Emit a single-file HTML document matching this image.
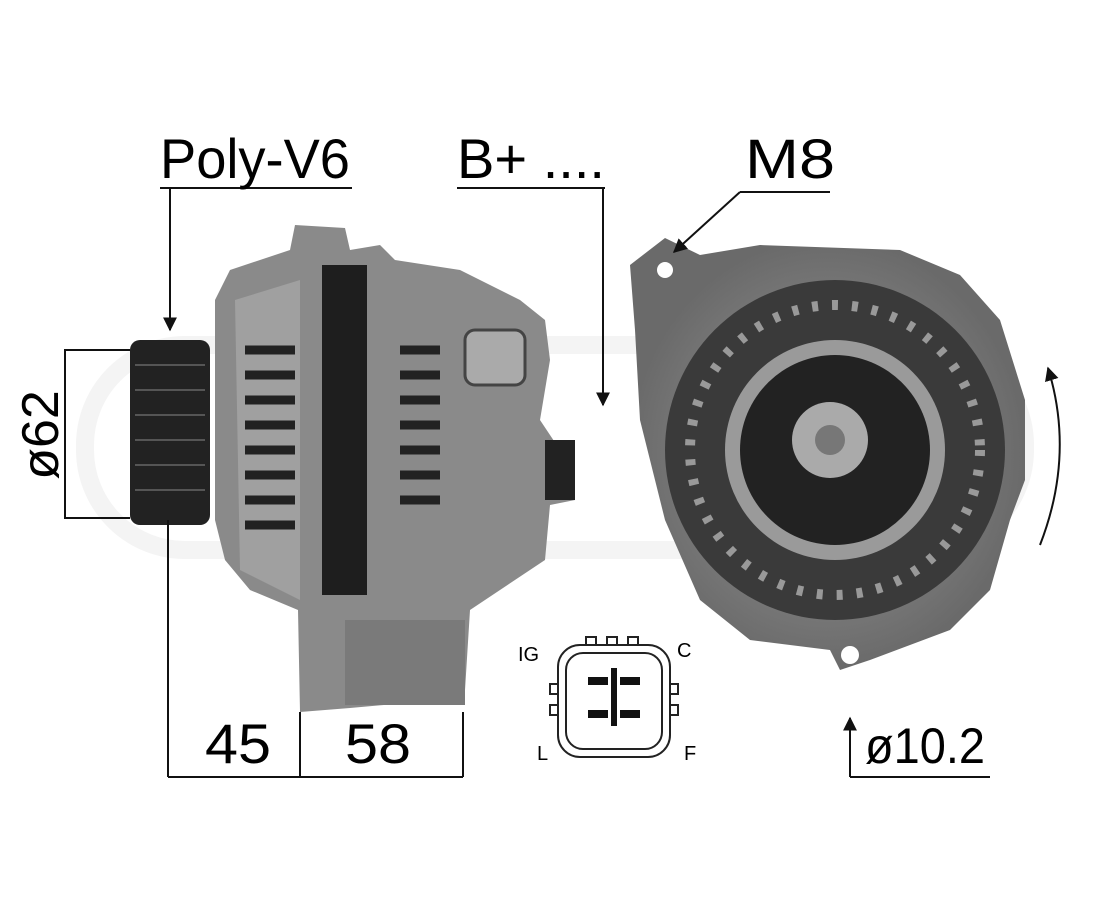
<!DOCTYPE html>
<html><head><style>
body{margin:0;background:#fff;}
svg{display:block}
text{font-family:"Liberation Sans",sans-serif;}
</style></head><body>
<svg width="1100" height="900" viewBox="0 0 1100 900">
<defs>
<marker id="ar" viewBox="0 0 10 10" refX="9" refY="5" markerWidth="7" markerHeight="7" orient="auto"><path d="M0,0 L10,5 L0,10 z" fill="#111"/></marker>
<radialGradient id="g1" cx="50%" cy="50%" r="50%"><stop offset="0" stop-color="#9a9a9a"/><stop offset="1" stop-color="#6a6a6a"/></radialGradient>
</defs>
<!-- watermark -->
<rect x="85" y="345" width="940" height="205" rx="100" fill="none" stroke="#f4f4f4" stroke-width="18"/>
<!-- left alternator -->
<path d="M215,300 L230,270 L290,250 L295,225 L345,228 L350,250 L380,245 L395,260 L460,270 L520,300 L545,320 L550,360 L540,420 L560,450 L575,460 L575,500 L550,505 L545,560 L470,610 L465,690 L440,700 L350,708 L300,712 L298,610 L250,590 L225,560 L215,520 Z" fill="#8a8a8a"/>
<path d="M235,300 L300,280 L300,600 L240,570 Z" fill="#a0a0a0"/>
<g stroke="#222" stroke-width="9">
<line x1="245" y1="350" x2="295" y2="350"/><line x1="245" y1="375" x2="295" y2="375"/><line x1="245" y1="400" x2="295" y2="400"/><line x1="245" y1="425" x2="295" y2="425"/><line x1="245" y1="450" x2="295" y2="450"/><line x1="245" y1="475" x2="295" y2="475"/><line x1="245" y1="500" x2="295" y2="500"/><line x1="245" y1="525" x2="295" y2="525"/>
<line x1="400" y1="350" x2="440" y2="350"/><line x1="400" y1="375" x2="440" y2="375"/><line x1="400" y1="400" x2="440" y2="400"/><line x1="400" y1="425" x2="440" y2="425"/><line x1="400" y1="450" x2="440" y2="450"/><line x1="400" y1="475" x2="440" y2="475"/><line x1="400" y1="500" x2="440" y2="500"/>
</g>
<rect x="322" y="265" width="45" height="330" fill="#1e1e1e"/>
<rect x="465" y="330" width="60" height="55" rx="10" fill="#aaa" stroke="#444" stroke-width="3"/>
<rect x="545" y="440" width="30" height="60" fill="#222"/>
<rect x="345" y="620" width="120" height="85" fill="#7a7a7a"/>
<!-- pulley -->
<rect x="130" y="340" width="80" height="185" rx="10" fill="#222"/>
<g stroke="#555" stroke-width="2"><line x1="135" y1="365" x2="205" y2="365"/><line x1="135" y1="390" x2="205" y2="390"/><line x1="135" y1="415" x2="205" y2="415"/><line x1="135" y1="440" x2="205" y2="440"/><line x1="135" y1="465" x2="205" y2="465"/><line x1="135" y1="490" x2="205" y2="490"/></g>
<!-- right alternator -->
<path d="M630,265 L665,238 L700,255 L760,245 L900,250 L960,275 L1000,320 L1025,400 L1025,480 L1010,520 L990,590 L950,630 L870,660 L840,670 L830,650 L750,640 L700,600 L665,520 L640,420 L635,330 Z" fill="url(#g1)"/>
<circle cx="835" cy="450" r="170" fill="#3a3a3a"/>
<circle cx="835" cy="450" r="145" fill="none" stroke="#999" stroke-width="10" stroke-dasharray="6 14"/>
<circle cx="835" cy="450" r="110" fill="#9a9a9a"/>
<circle cx="835" cy="450" r="95" fill="#222"/>
<circle cx="830" cy="440" r="38" fill="#aaa"/>
<circle cx="830" cy="440" r="15" fill="#777"/>
<circle cx="665" cy="270" r="8" fill="#fff"/>
<circle cx="850" cy="655" r="9" fill="#fff"/>
<!-- dimension lines -->
<g stroke="#111" stroke-width="2" fill="none">
<line x1="160" y1="188" x2="352" y2="188"/>
<polyline points="170,188 170,330" marker-end="url(#ar)"/>
<line x1="457" y1="188" x2="605" y2="188"/>
<polyline points="603,188 603,405" marker-end="url(#ar)"/>
<line x1="740" y1="192" x2="830" y2="192"/>
<line x1="740" y1="192" x2="674" y2="252" marker-end="url(#ar)"/>
<polyline points="130,350 65,350 65,518 130,518"/>
<line x1="168" y1="520" x2="168" y2="777"/>
<line x1="300" y1="712" x2="300" y2="777"/>
<line x1="463" y1="712" x2="463" y2="777"/>
<line x1="168" y1="777" x2="463" y2="777"/>
<line x1="850" y1="777" x2="990" y2="777"/>
<line x1="850" y1="777" x2="850" y2="718" marker-end="url(#ar)"/>
<path d="M1040,545 Q1075,455 1048,368" marker-end="url(#ar)"/>
</g>
<!-- connector -->
<g fill="none" stroke="#222" stroke-width="2">
<rect x="558" y="645" width="112" height="112" rx="22"/>
<rect x="566" y="653" width="96" height="96" rx="17"/>
<rect x="586" y="637" width="10" height="8"/><rect x="607" y="637" width="10" height="8"/><rect x="628" y="637" width="10" height="8"/>
<rect x="550" y="684" width="8" height="10"/><rect x="550" y="705" width="8" height="10"/>
<rect x="670" y="684" width="8" height="10"/><rect x="670" y="705" width="8" height="10"/>
</g>
<g fill="#111"><rect x="588" y="677" width="20" height="8"/><rect x="620" y="677" width="20" height="8"/><rect x="588" y="710" width="20" height="8"/><rect x="620" y="710" width="20" height="8"/><rect x="611" y="668" width="6" height="58"/></g>
<text x="518" y="661" font-size="20">IG</text>
<text x="677" y="657" font-size="20">C</text>
<text x="537" y="760" font-size="20">L</text>
<text x="684" y="760" font-size="20">F</text>
<!-- labels -->
<text x="160" y="178" font-size="56" textLength="190" lengthAdjust="spacingAndGlyphs">Poly-V6</text>
<text x="457" y="178" font-size="56" textLength="148" lengthAdjust="spacingAndGlyphs">B+ ....</text>
<text x="745" y="178" font-size="56" textLength="90" lengthAdjust="spacingAndGlyphs">M8</text>
<text x="205" y="763" font-size="56" textLength="66" lengthAdjust="spacingAndGlyphs">45</text>
<text x="345" y="763" font-size="56" textLength="66" lengthAdjust="spacingAndGlyphs">58</text>
<text x="865" y="763" font-size="50" textLength="120" lengthAdjust="spacingAndGlyphs">ø10.2</text>
<text transform="translate(58,435) rotate(-90)" font-size="52" text-anchor="middle">ø62</text>
</svg>
</body></html>
